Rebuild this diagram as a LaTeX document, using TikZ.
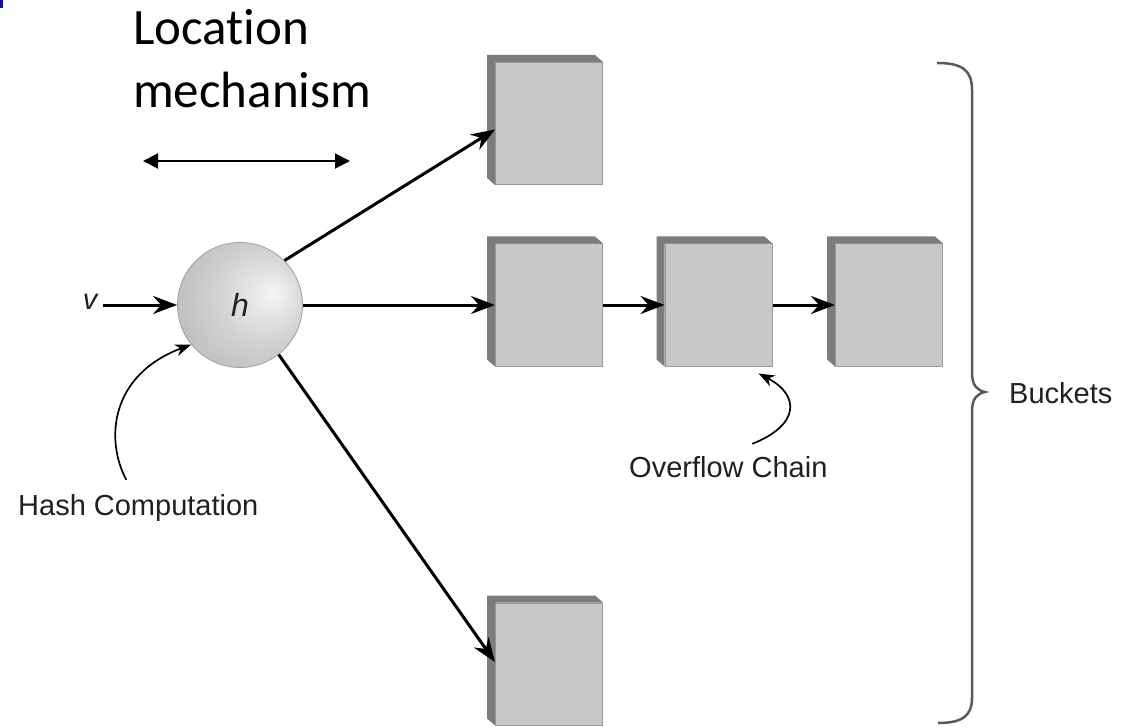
\documentclass[tikz,border=0pt]{standalone}
\usepackage{fontspec}
\setmainfont{Liberation Sans}
\newfontfamily\calibfont[Ligatures=NoCommon]{Carlito}
\usetikzlibrary{arrows.meta,calc}

\definecolor{facegray}{HTML}{C8C8C8}
\definecolor{shadegray}{HTML}{7C7C7C}
\definecolor{edgegray}{HTML}{9A9A9A}
\definecolor{bracegray}{HTML}{5A5A5A}
\definecolor{inkgray}{HTML}{202020}
\definecolor{markblue}{HTML}{1010A0}

% sphere shading with the highlight right of centre
\pgfdeclareradialshading{hball}{\pgfqpoint{14bp}{5bp}}{%
  color(0bp)=(gray!8); color(18bp)=(gray!35); color(40bp)=(gray!60); color(50bp)=(gray!80)}

\begin{document}
\begin{tikzpicture}[x=1pt,y=-1pt,
  bucket/.style={draw=edgegray, line width=1pt, fill=facegray,
                 minimum width=107pt, minimum height=122pt, inner sep=0pt},
  label/.style={font=\fontsize{29}{34}\selectfont, text=inkgray, inner sep=0pt},
  heavy/.style={line width=3pt, -{Stealth[length=24pt,width=18pt,inset=8pt]}},
  light/.style={line width=1.7pt, -{Stealth[length=16pt,width=12pt,inset=5pt]}},
  span/.style={line width=2pt, {Triangle[length=15pt,width=15pt]}-{Triangle[length=15pt,width=15pt]}}
]
\useasboundingbox (0,0) rectangle (1124,727);
\fill[markblue] (0,0) rectangle (2.5,8.5);

% heading (anchored on its last baseline) and its span arrow
\node[font=\calibfont\fontsize{51}{63}\selectfont, align=left, anchor=base west, inner sep=0pt]
  (loc) at (133,108) {Location\\mechanism};
\coordinate (spanL) at (143,161);
\coordinate (spanR) at (350,161);
\draw[span] (spanL) -- (spanR);

% hash function
\node[circle, shade, shading=hball, draw=gray!75, line width=0.8pt, minimum size=125pt, inner sep=0pt,
      font=\itshape\fontsize{32}{36}\selectfont, text=inkgray] (h) at (240,305) {h};
\node[label, font=\itshape\fontsize{29}{34}\selectfont, anchor=base] (v) at (90,309) {v};

% buckets
\node[bucket] (t)  at (549,123.5) {};
\node[bucket] (b1) at (549,305) {};
\node[bucket] (b2) at (718.5,305) {};
\node[bucket] (b3) at (889,305) {};
\node[bucket] (d)  at (549,664) {};
\foreach \b in {t,b1,b2,b3,d}{
  \fill[shadegray] (\b.south west) -- ($(\b.south west)+(-8,-7)$) -- ($(\b.north west)+(-8,-7)$)
     -- ($(\b.north east)+(-8,-7)$) -- (\b.north east) -- (\b.north west) -- cycle;
}

% connectors
\draw[heavy] ([xshift=6pt]v.east |- h.west) -- (h.west);
\draw[heavy] (h.45) -- ([yshift=-6pt]t.west);
\draw[heavy] (h.east) -- (b1.west);
\draw[heavy] (h.-52) -- ([yshift=2pt]d.west);
\draw[heavy] (b1.east) -- (b2.west);
\draw[heavy] (b2.east) -- (b3.west);

% annotations
\node[label, anchor=base west] (hc) at (18,515) {Hash Computation};
\node[label, anchor=base west] (of) at (629,477) {Overflow Chain};
\node[label, anchor=base west] (bk) at (1009,403) {Buckets};
\draw[light] ([xshift=-12pt,yshift=14pt]hc.north) .. controls (105,440) and (110,375) .. (h.219);
\draw[light] ([xshift=24pt,yshift=12pt]of.north) .. controls (800,425) and (800,395)
  .. ([xshift=-14pt,yshift=-7pt]b2.south east);

% brace
\draw[bracegray, line width=2.5pt]
  (937,63) .. controls (962,63) and (972,70) .. (972,90) -- (972,372)
  .. controls (972,386) and (977,390) .. (985,392)
  .. controls (977,394) and (972,398) .. (972,412) -- (972,698)
  .. controls (972,716) and (962,723) .. (938,723);
\end{tikzpicture}
\end{document}
